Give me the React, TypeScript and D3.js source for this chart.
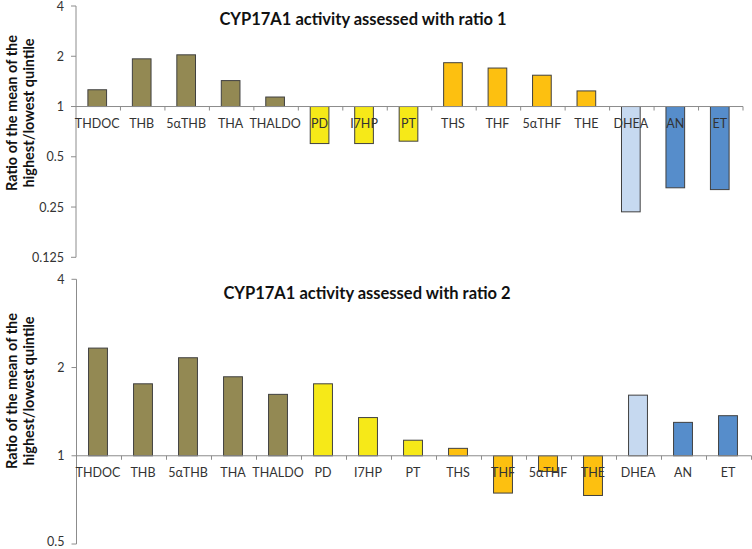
import React from "react";
import * as d3 from "d3";

const categories = ["THDOC", "THB", "5αTHB", "THA", "THALDO", "PD", "I7HP", "PT", "THS", "THF", "5αTHF", "THE", "DHEA", "AN", "ET"];
const groups = ["olive", "olive", "olive", "olive", "olive", "yellow", "yellow", "yellow", "orange", "orange", "orange", "orange", "light", "blue", "blue"];
const ratio1Values = [1.26, 1.93, 2.04, 1.43, 1.14, 0.6, 0.6, 0.62, 1.83, 1.7, 1.54, 1.24, 0.234, 0.326, 0.318];
const ratio2Values = [2.33, 1.76, 2.16, 1.86, 1.62, 1.76, 1.35, 1.13, 1.06, 0.746, 0.884, 0.732, 1.61, 1.3, 1.37];
const ticks1 = [0.125, 0.25, 0.5, 1, 2, 4];
const ticks2 = [0.5, 1, 2, 4];
const titles = ["CYP17A1 activity assessed with ratio 1", "CYP17A1 activity assessed with ratio 2"];
const yLabelLines = ["Ratio of the mean of the", "highest/lowest quintile"];

const colors: Record<string, string> = {
  olive: "#938953",
  yellow: "#F6E918",
  orange: "#FDC010",
  light: "#C6D9F0",
  blue: "#568DCB",
};

const FONT = "Lato, 'Open Sans', sans-serif";

type PanelProps = {
  values: number[];
  ticks: number[];
  title: string;
  yRange: [number, number];
  xRange: [number, number];
  titleY: number;
  titleX: number;
  labelCenterY: number;
};

function Panel({ values, ticks, title, yRange, xRange, titleY, titleX, labelCenterY }: PanelProps) {
  const y = d3.scaleLog().base(2).domain([ticks[0], ticks[ticks.length - 1]]).range(yRange);
  const x = d3.scaleBand<string>().domain(categories).range(xRange).padding(0);
  const bw = x.bandwidth();
  const barW = bw * 0.42;
  const y1 = y(1);
  const axisColor = "#8C8C8C";
  const boundaries = d3.range(categories.length + 1).map((i) => xRange[0] + i * bw);
  return (
    <g>
      <text x={titleX} y={titleY} textAnchor="middle" dominantBaseline="central" fontFamily={FONT} fontWeight="bold" fontSize={16.5} fill="#111">
        {title}
      </text>
      <text
        transform={`translate(19.5,${labelCenterY}) rotate(-90)`}
        textAnchor="middle"
        dominantBaseline="central"
        fontFamily={FONT}
        fontWeight="bold"
        fontSize={14.5}
        fill="#111"
      >
        <tspan x={0} dy={-8.25}>{yLabelLines[0]}</tspan>
        <tspan x={0} dy={16.5}>{yLabelLines[1]}</tspan>
      </text>
      {values.map((v, i) => {
        const cx = (x(categories[i]) as number) + bw / 2 - 1;
        const yv = y(v);
        return (
          <rect
            key={i}
            x={cx - barW / 2}
            y={Math.min(yv, y1)}
            width={barW}
            height={Math.abs(yv - y1)}
            fill={colors[groups[i]]}
            stroke="#404040"
            strokeWidth={1}
          />
        );
      })}
      <line x1={xRange[0]} x2={xRange[0]} y1={yRange[1]} y2={yRange[0]} stroke={axisColor} strokeWidth={1} />
      {ticks.map((t) => (
        <g key={t}>
          <line x1={xRange[0] - 5} x2={xRange[0]} y1={y(t)} y2={y(t)} stroke={axisColor} strokeWidth={1} />
          <text x={xRange[0] - 12} y={Math.min(y(t), 541)} textAnchor="end" dominantBaseline="central" fontFamily={FONT} fontSize={12.5} fill="#333">
            {t}
          </text>
        </g>
      ))}
      <line x1={xRange[0]} x2={xRange[1]} y1={y1} y2={y1} stroke={axisColor} strokeWidth={1} />
      {boundaries.slice(1).map((b, i) => (
        <line key={i} x1={b} x2={b} y1={y1} y2={y1 + 4} stroke={axisColor} strokeWidth={1} />
      ))}
      {categories.map((c) => (
        <text
          key={c}
          x={(x(c) as number) + bw / 2 - 1}
          y={y1 + 17}
          textAnchor="middle"
          dominantBaseline="central"
          fontFamily={FONT}
          fontSize={12.5}
          fill="#333"
        >
          {c}
        </text>
      ))}
    </g>
  );
}

export default function App() {
  return (
    <svg width={752} height={549} style={{ position: "absolute", left: 0, top: 0, background: "#fff" }}>
      <rect width={752} height={549} fill="#fff" />
      <Panel
        values={ratio1Values}
        ticks={ticks1}
        title={titles[0]}
        yRange={[257.3, 6]}
        xRange={[76, 743]}
        titleY={19}
        titleX={363}
        labelCenterY={113}
      />
      <Panel
        values={ratio2Values}
        ticks={ticks2}
        title={titles[1]}
        yRange={[544, 279.3]}
        xRange={[76.5, 751.5]}
        titleY={293}
        titleX={367}
        labelCenterY={391}
      />
    </svg>
  );
}
